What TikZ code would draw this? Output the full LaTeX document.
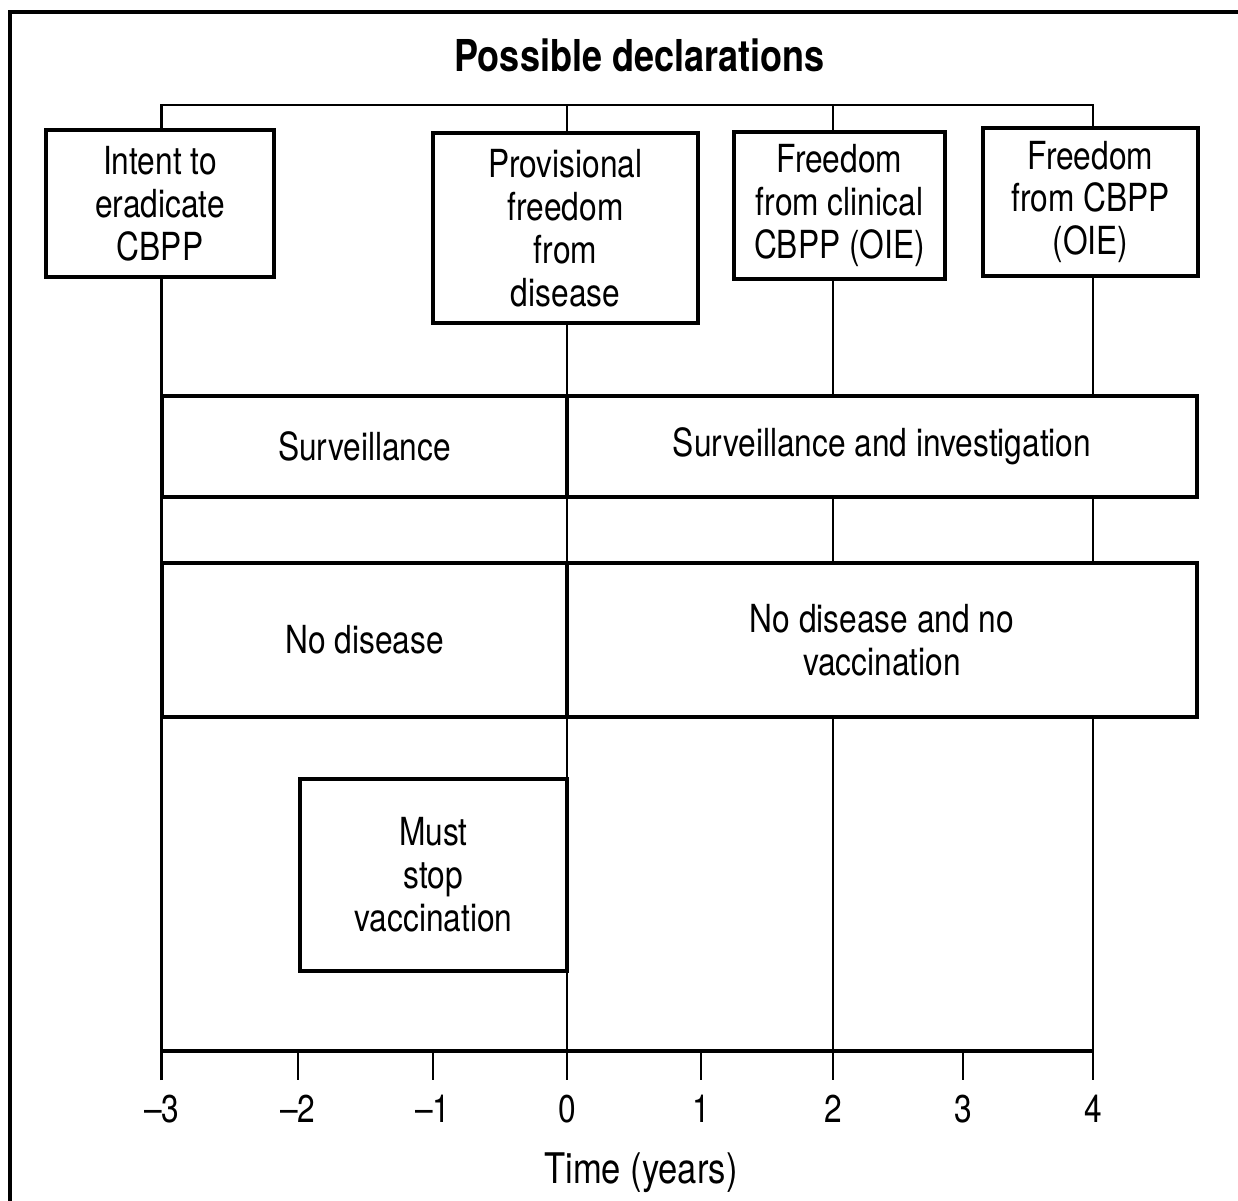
\documentclass[tikz,border=0pt]{standalone}
\usepackage{fontspec}
\setmainfont{TeX Gyre Heros}[FakeStretch=0.82]
\usetikzlibrary{positioning,calc}
\newcommand{\declfont}{\fontsize{11}{12.2}\selectfont}
\tikzset{
  declbox/.style={draw, line width=1pt, fill=white, align=center,
    inner sep=0pt, outer sep=0pt, font=\declfont},
  band/.style={declbox, minimum height=#1},
  tline/.style={line width=0.85pt},
}

\begin{document}
\begin{tikzpicture}
        \useasboundingbox (-5.67,-1.49) rectangle (6.71,10.51);
        % outer frame
        \draw[line width=1.1pt] (-5.57,-2) |- (7,10.39);
        \node[font=\fontsize{12.5}{14}\selectfont\bfseries, anchor=base] (title)
             at (0.725,9.79) {Possible declarations};
        % time axis and declaration lines
        \foreach \t/\x in {-3/-4.05,-2/-2.69,-1/-1.34,0/0,1/1.34,2/2.66,3/3.96,4/5.26}
          \coordinate (t\t) at (\x,0);
        \draw[tline] ($(t-3)+(0,-0.29)$) |- ($(t4)+(0,9.46)$) -- ($(t4)+(0,-0.29)$);
        \foreach \t in {0,2} \draw[tline] ($(t\t)+(0,9.46)$) -- ($(t\t)+(0,-0.29)$);
        \draw[line width=1.1pt] (t-3) -- (t4);
        \foreach \t in {-2,-1,1,3} \draw[tline] (t\t) -- ++(0,-0.29);
        \foreach \t/\lab in {-3/--3,-2/--2,-1/--1,0/0,1/1,2/2,3/3,4/4}
          \node[font=\declfont, anchor=base] (lab\t) at ($(t\t)+(0,-0.71)$) {\lab};
        \node[font=\fontsize{12}{14}\selectfont, anchor=base] (timelabel)
             at (0.74,-1.32) {Time (years)};
        % declarations
        \node[declbox, minimum width=2.28cm, minimum height=1.47cm] (intent)
             at (-4.07,8.475) {Intent to\\eradicate\\CBPP};
        \node[declbox, minimum width=2.65cm, minimum height=1.90cm] (provisional)
             at (-0.015,8.23) {Provisional\\freedom\\from\\disease};
        \node[declbox, minimum width=2.11cm, minimum height=1.47cm] (clinical)
             at (2.725,8.455) {Freedom\\from clinical\\CBPP (OIE)};
        \node[declbox, minimum width=2.15cm, minimum height=1.48cm] (freecbpp)
             at (5.235,8.49) {Freedom\\from CBPP\\(OIE)};
        % requirements
        \node[band=1.01cm, minimum width=4.05cm] (surv) at (-2.025,6.045) {Surveillance};
        \node[band=1.01cm, minimum width=6.30cm, right=0pt of surv] (survinv)
             {Surveillance and investigation};
        \node[band=1.54cm, minimum width=4.05cm] (nodis) at (-2.025,4.11) {No disease};
        \node[band=1.54cm, minimum width=6.30cm, right=0pt of nodis] (novacc)
             {No disease and no\\vaccination};
        \node[declbox, minimum width=2.67cm, minimum height=1.92cm] (muststop)
             at (-1.335,1.76) {Must\\stop\\vaccination};
      \end{tikzpicture}
\end{document}
